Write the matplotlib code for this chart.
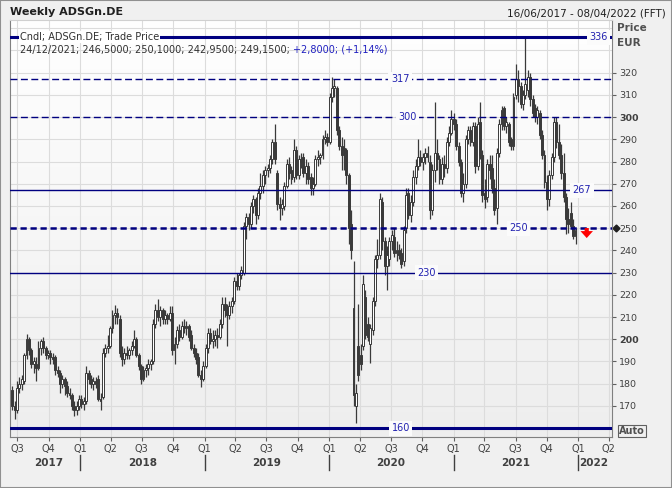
import numpy as np
import pandas as pd
import matplotlib
matplotlib.use("Agg")
import matplotlib.pyplot as plt
import matplotlib.dates as mdates
from matplotlib.colors import LinearSegmentedColormap
from matplotlib.patches import Rectangle

# weekly candles, Fridays
weeks = pd.date_range("2017-06-16", "2021-12-24", freq="W-FRI")

opens = [177, 170, 168, 178, 180, 181, 193, 200, 195, 189, 189, 187, 196, 199, 196, 193, 194, 192, 192, 186,
         185, 180, 182, 179, 176, 175, 170, 168, 170, 173, 171, 172, 185, 182, 180, 181, 182, 173, 174, 194,
         196, 197, 205, 211, 212, 209, 194, 191, 194, 193, 195, 197, 200, 193, 188, 182, 186, 187, 189, 190,
         207, 213, 210, 213, 209, 211, 209, 212, 195, 198, 204, 201, 206, 205, 206, 202, 196, 194, 192, 184,
         182, 188, 196, 203, 199, 200, 202, 201, 207, 216, 213, 211, 215, 217, 226, 224, 229, 230, 251, 255,
         252, 260, 263, 256, 266, 269, 274, 276, 277, 281, 289, 275, 261, 259, 260, 269, 279, 276, 273, 285,
         274, 281, 282, 275, 278, 273, 268, 270, 281, 282, 283, 290, 291, 289, 309, 313, 313, 294, 287, 286,
         285, 274, 252, 214, 170, 197, 193, 197, 219, 207, 198, 204, 217, 236, 238, 262, 244, 233, 236, 244,
         246, 239, 240, 239, 235, 250, 266, 256, 262, 273, 278, 282, 280, 282, 284, 280, 258, 276, 284, 281,
         272, 279, 277, 289, 293, 299, 297, 287, 280, 266, 270, 290, 294, 289, 296, 278, 298, 283, 266, 264,
         279, 277, 268, 259, 284, 297, 304, 296, 297, 290, 287, 310, 317, 314, 306, 310, 312, 318, 308, 304,
         300, 302, 292, 283, 271, 263, 274, 282, 298, 289, 283, 275, 264, 254, 257, 251, 246.5]
highs = [179, 172, 181, 183, 184, 194, 202.5, 201, 196, 192, 192, 199, 200, 201, 197, 195, 195, 194, 193, 188,
         186, 184, 183, 181, 178, 176, 172, 172, 175, 175, 174, 188, 186, 184, 183, 183, 184, 176, 196, 198,
         202, 206, 213, 215.6, 214, 211, 197, 196, 197, 196, 199, 204, 201, 194, 189, 188, 189, 191, 191, 209,
         216, 218, 215, 214, 213, 212, 215, 215, 201, 206, 207, 208, 209, 208, 207, 204, 198, 196, 194, 186,
         190, 198, 205, 205, 204, 204, 205, 209, 219, 219, 216, 217, 219, 228, 230, 230, 233, 253, 257, 257,
         262, 265, 264, 268, 275, 276, 278, 279, 283, 290, 297, 276, 264, 263, 271, 281, 282, 278, 290, 287,
         283, 284, 284, 281, 280, 275, 273, 283, 285, 284, 292, 294, 293, 311, 318, 317, 314, 296, 291, 290,
         286, 275, 258, 235, 180, 216, 198, 229, 222, 210, 207, 219, 238, 245, 266, 264, 246, 242, 246, 249,
         250, 244, 243, 241, 251, 268, 268, 265, 276, 281, 290, 285, 284, 286, 287, 283, 279, 307, 290, 283,
         282, 283, 291, 296, 303, 302, 299, 289, 281, 275, 292, 296, 296, 298, 298, 300, 307, 285, 272, 281,
         283, 283, 272, 286, 299, 305, 305, 300, 298, 291, 311, 324, 321, 316, 312, 336, 321, 320, 310, 306,
         305, 303, 294, 285, 274, 276, 284, 300, 300, 297, 288, 284, 266, 259, 262, 254, 250.1]
lows = [168, 164, 167, 176, 177, 180, 191, 193, 187, 185, 181, 186, 193, 194, 191, 191, 189, 189, 184, 183,
        176, 178, 175, 174, 173, 168, 165.5, 166, 168, 169, 168, 171, 180, 178, 177, 178, 172, 168, 173, 192,
        194, 196, 203, 207, 207, 192, 188, 189, 191, 191, 193, 196, 192, 186, 180, 181, 183, 184, 186, 189,
        205, 208, 206, 207, 207, 207, 208, 193, 189, 196, 199, 200, 203, 202, 199, 195, 192, 189, 183, 178.5,
        181, 187, 194, 198, 196, 197, 196, 200, 205, 210, 197, 209, 212, 216, 222, 222, 227, 229, 245, 249,
        250, 257, 252, 254, 263, 266, 270, 273, 275, 279, 279, 258, 253.5, 256, 258, 268, 272, 270, 271, 272,
        272, 277, 273, 270, 270, 265, 264.8, 269, 278, 279, 281, 288, 287, 288, 307, 309, 292, 285, 276, 276,
        270, 243, 236, 170, 162.5, 181, 186, 195, 200, 199, 189.5, 202, 215, 232, 236, 240, 229, 222, 233, 240,
        237, 235, 236, 232, 233, 248, 254, 253, 260, 270, 276, 278, 276, 279, 280, 254, 256, 271, 276, 270,
        270, 273, 275, 287, 292, 294, 285, 278, 264, 262, 268, 288, 287, 287, 275, 276, 281, 262, 259, 262,
        272, 266, 256, 252, 282, 294, 294, 293, 287, 285, 285, 308, 307, 304, 303, 308, 309, 305, 300, 298,
        297, 290, 281, 268, 258, 260, 272, 280, 286, 281, 272, 262, 247.5, 248, 250, 245, 242.95]
closes = [170, 168, 178, 180, 182, 193, 200, 195, 189, 190, 187, 196, 199, 196, 193, 194, 192, 191, 186, 185,
          180, 182, 179, 176, 175, 170, 168, 170, 173, 171, 172, 185, 182, 180, 181, 180, 173, 172, 194, 196,
          197, 205, 211, 212, 210, 194, 191, 194, 193, 195, 197, 200, 193, 188, 182, 186, 187, 189, 190, 207,
          213, 210, 213, 209, 211, 209, 212, 195, 198, 204, 201, 206, 205, 206, 201, 196, 194, 191, 184, 182,
          188, 196, 203, 199, 200, 202, 201, 207, 216, 213, 211, 215, 217, 226, 224, 229, 231, 251, 255, 252,
          260, 263, 256, 266, 269, 274, 276, 277, 281, 289, 281, 261, 259, 261, 269, 279, 275, 272, 285, 274,
          281, 280, 275, 278, 272, 268, 270, 281, 282, 283, 290, 291, 289, 309, 313, 314, 294, 287, 283, 285,
          274, 250, 240, 175, 176, 184, 189, 225, 202, 201, 205, 217, 236, 238, 263, 244, 233, 238, 244, 247,
          239, 240, 238, 234, 249, 265, 256, 262, 273, 278, 282, 280, 282, 284, 282, 258, 276, 284, 281, 272,
          279, 277, 289, 293, 299, 297, 287, 280, 266, 270, 290, 294, 289, 296, 278, 297, 283, 265, 263, 279,
          276, 268, 258, 284, 297, 303, 296, 298, 289, 287, 309, 317, 314, 306, 310, 315, 318, 308, 302, 300,
          303, 292, 283, 271, 263, 274, 282, 298, 289, 283, 275, 264, 254, 252, 251, 246.5, 249.15]

# reference lines: value, style, width, label position (axes fraction)
levels = [336, 317, 300, 267, 250, 230, 160]
level_styles = ["-", "--", "--", "-", "--", "-", "-"]
level_widths = [2.2, 1.0, 1.0, 1.0, 1.8, 1.0, 2.2]
level_label_x = [0.993, 0.648, 0.660, 0.950, 0.845, 0.692, 0.649]

y_ticks = list(range(170, 330, 10))
quarter_starts = pd.date_range("2017-07-01", "2022-04-01", freq="QS")
years = ["2017", "2018", "2019", "2020", "2021", "2022"]

LINE = "#000080"
LABEL = "#2222b0"
CANDLE = "#3a3a3a"
TEXT = "#404040"


def draw_candles(ax):
    x = mdates.date2num(weeks)
    o = np.array(opens, dtype=float)
    c = np.array(closes, dtype=float)
    up = c >= o
    ax.vlines(x, lows, highs, color=CANDLE, lw=0.9, zorder=3)
    ax.bar(x, np.maximum(np.abs(c - o), 0.4), bottom=np.minimum(o, c), width=5.6,
           color=np.where(up, "white", CANDLE), edgecolor=CANDLE, linewidth=0.7, zorder=4)


def draw_levels(ax):
    yt = ax.get_yaxis_transform()
    for val, ls, lw, lx in zip(levels, level_styles, level_widths, level_label_x):
        if ls == "--":
            dashes = (2.5, 1.5) if lw > 1.5 else (5, 2.5)
            ax.axhline(val, color=LINE, lw=lw, ls=ls, dashes=dashes, zorder=5)
        else:
            ax.axhline(val, color=LINE, lw=lw, zorder=5)
        ha = "right" if lx > 0.98 else "center"
        ax.text(lx, val, str(val), transform=yt, ha=ha, va="center", fontsize=7,
                color=LABEL, zorder=6,
                bbox=dict(boxstyle="square,pad=0.25", fc="#fbfbfb", ec="none"))


def main():
    fig = plt.figure(figsize=(6.72, 4.88), dpi=100, facecolor="#f0f0f0")
    ax = fig.add_axes([10 / 672, 51 / 488, 602 / 672, 417 / 488])

    grad = LinearSegmentedColormap.from_list("bg", ["#ffffff", "#eeeeee"])
    ax.imshow(np.linspace(0, 1, 256).reshape(-1, 1), cmap=grad, extent=[0, 1, 0, 1],
              transform=ax.transAxes, aspect="auto", zorder=0)

    draw_candles(ax)
    draw_levels(ax)

    ax.set_xlim(mdates.date2num(pd.Timestamp("2017-06-09 12:00")),
                mdates.date2num(pd.Timestamp("2022-04-10")))
    ax.set_ylim(156.0, 343.7)

    # grid
    for v in range(160, 350, 10):
        ax.axhline(v, color="#dcdcdc", lw=0.8, zorder=1)
    for q in quarter_starts:
        ax.axvline(mdates.date2num(q), color="#dcdcdc", lw=0.8, zorder=1)

    # right price axis
    ax.yaxis.tick_right()
    ax.set_yticks(y_ticks)
    ax.set_yticklabels([str(v) for v in y_ticks], fontsize=6.8, color=TEXT)
    for lab, v in zip(ax.get_yticklabels(), y_ticks):
        if v in (200, 300):
            lab.set_fontweight("bold")
    ax.tick_params(axis="y", length=3, color="#606060", pad=2)

    # quarter axis
    ax.set_xticks(mdates.date2num(quarter_starts))
    ax.set_xticklabels(["Q%d" % ((d.month - 1) // 3 + 1) for d in quarter_starts],
                       fontsize=7, color=TEXT)
    ax.tick_params(axis="x", length=3, color="#606060", pad=2)

    xt = ax.get_xaxis_transform()
    year_pos = ["2017-10-01", "2018-07-02", "2019-07-02", "2020-07-01", "2021-07-02"]
    for yr, d in zip(years[:-1], year_pos):
        ax.text(mdates.date2num(pd.Timestamp(d)), -0.062, yr, transform=xt, ha="center",
                va="center", fontsize=7.5, fontweight="bold", color=TEXT)
    ax.text(mdates.date2num(pd.Timestamp("2022-01-05")), -0.062, years[-1], transform=xt,
            ha="left", va="center", fontsize=7.5, fontweight="bold", color=TEXT)
    for yr in years[1:]:
        xd = mdates.date2num(pd.Timestamp(yr + "-01-01"))
        ax.plot([xd, xd], [-0.043, -0.079], transform=xt, color=TEXT, lw=1, clip_on=False)

    for side in ["left", "bottom", "right"]:
        ax.spines[side].set_color("#808080")
    ax.spines["top"].set_color("#d0d0d0")

    # legend lines inside the plot
    yt = ax.get_yaxis_transform()
    ax.text(0.0166, 336, "Cndl; ADSGn.DE; Trade Price", transform=yt, va="center",
            fontsize=7, color="#303030", zorder=7,
            bbox=dict(boxstyle="square,pad=0.1", fc="white", ec="none"))
    t1 = ax.text(0.0166, 330.2, "24/12/2021; 246,5000; 250,1000; 242,9500; 249,1500; ",
                 transform=yt, va="center", fontsize=7, color="#303030", zorder=7)
    ax.annotate("+2,8000; (+1,14%)", xy=(1, 0.5), xycoords=t1, va="center",
                fontsize=7, color="#2020c0", zorder=7)

    # last price marker and direction arrow
    ax.plot(1.0066, 250, marker="D", ms=3.5, color="#202020", transform=yt, clip_on=False)
    ax.annotate("", xy=(0.958, 244.3), xytext=(0.958, 251.3), xycoords=yt, textcoords=yt,
                arrowprops=dict(arrowstyle="simple,head_width=0.9,head_length=0.5,tail_width=0.3",
                                color="red", lw=0, mutation_scale=10), zorder=7)

    # header texts
    fig.text(10 / 672, 1 - 12 / 488, "Weekly ADSGn.DE", fontsize=8, fontweight="bold",
             va="center", color="#202020")
    fig.text(666 / 672, 1 - 13 / 488, "16/06/2017 - 08/04/2022 (FFT)", fontsize=7.5,
             ha="right", va="center", color="#202020")
    fig.text(617 / 672, 1 - 28 / 488, "Price", fontsize=7.5, fontweight="bold",
             va="center", color="#505050")
    fig.text(617 / 672, 1 - 43 / 488, "EUR", fontsize=7.5, fontweight="bold",
             va="center", color="#505050")
    fig.text(619 / 672, 1 - 431 / 488, "Auto", fontsize=7, fontweight="bold", va="center",
             color="#505050", bbox=dict(boxstyle="square,pad=0.15", fc="#f0f0f0", ec="#606060", lw=0.8))

    fig.patches.append(Rectangle((0, 0), 1, 1, transform=fig.transFigure, fill=False,
                                 ec="#909090", lw=1.5))

    fig.savefig("out.png", dpi=100, facecolor=fig.get_facecolor())
    plt.close(fig)


if __name__ == "__main__":
    main()
